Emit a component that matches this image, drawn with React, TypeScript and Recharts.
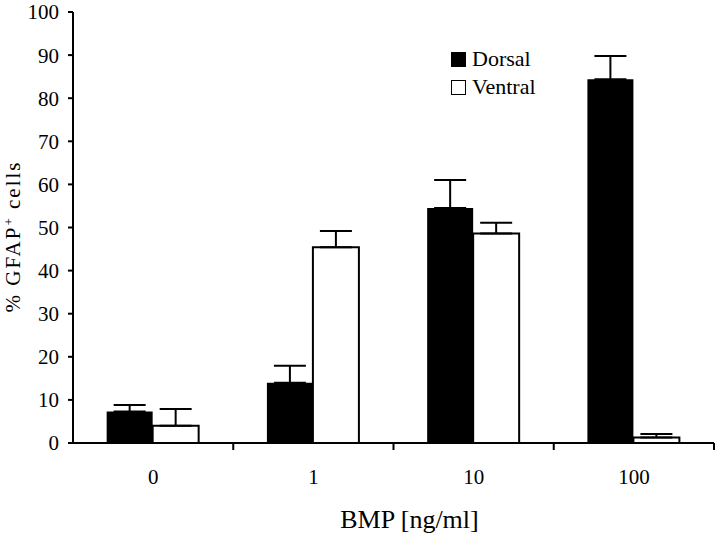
import React from 'react'
import { BarChart, Bar, XAxis, YAxis, Legend, ErrorBar } from 'recharts'

const doses = ['0', '1', '10', '100']
const dorsal = [7.3, 14.0, 54.5, 84.4]
const dorsalErr = [1.5, 3.9, 6.5, 5.4]
const ventral = [4.0, 45.4, 48.6, 1.3]
const ventralErr = [3.9, 3.8, 2.5, 0.8]
const yTicks = [0, 10, 20, 30, 40, 50, 60, 70, 80, 90, 100]

const W = 720
const H = 535
const MARGIN = { top: 12, right: 6, bottom: 2, left: 13 }
const Y_AXIS_W = 60
const HALF_BAND = (W - MARGIN.left - MARGIN.right - Y_AXIS_W) / doses.length / 2
const FONT = '"Liberation Serif", "Times New Roman", serif'

// only the upper whisker is drawn, like the original figure
const rows = doses.map((d, i) => ({
  dose: d,
  dorsal: dorsal[i],
  dorsalErr: [0, dorsalErr[i]],
  ventral: ventral[i],
  ventralErr: [0, ventralErr[i]],
}))

function DoseTick({ x, y, payload }: any) {
  return (
    <g>
      <line x1={x + HALF_BAND} x2={x + HALF_BAND} y1={y} y2={y + 7} stroke="#000" strokeWidth={2} />
      <text x={x} y={y + 41} textAnchor="middle" fontFamily={FONT} fontSize={21} fill="#000">
        {payload.value}
      </text>
    </g>
  )
}

function YTitle({ viewBox }: any) {
  const x = viewBox.x + 7
  const y = viewBox.y + viewBox.height / 2 + 9
  return (
    <text
      x={x}
      y={y}
      transform={`rotate(-90, ${x}, ${y})`}
      textAnchor="middle"
      fontFamily={FONT}
      fontSize={21}
      letterSpacing={2}
      fill="#000"
    >
      <tspan>% GFAP</tspan>
      <tspan dy={-7} fontSize={13}>+</tspan>
      <tspan dy={7}> cells</tspan>
    </text>
  )
}

function LegendBox() {
  const item = (name: string, fill: string) => (
    <div style={{ display: 'flex', alignItems: 'center', height: 28 }}>
      <span style={{ width: 13, height: 13, background: fill, border: '1.5px solid #000', marginRight: 6 }} />
      <span>{name}</span>
    </div>
  )
  return (
    <div style={{ fontFamily: FONT, fontSize: 22, color: '#000', lineHeight: 1 }}>
      {item('Dorsal', '#000')}
      {item('Ventral', '#fff')}
    </div>
  )
}

export default function App() {
  return (
    <div style={{ position: 'absolute', left: 0, top: 0, width: W, height: H, background: '#fff' }}>
      <BarChart width={W} height={H} data={rows} margin={MARGIN} barCategoryGap="21%" barGap={0}>
        <XAxis
          dataKey="dose"
          height={90}
          axisLine={{ stroke: '#000', strokeWidth: 2 }}
          tickLine={false}
          tickSize={0}
          tickMargin={0}
          tick={<DoseTick />}
          label={{
            value: 'BMP [ng/ml]',
            position: 'insideBottom',
            offset: 5,
            dx: 16,
            style: { fontFamily: FONT, fontSize: 26, fill: '#000' },
          }}
        />
        <YAxis
          width={Y_AXIS_W}
          domain={[0, 100]}
          ticks={yTicks}
          interval={0}
          axisLine={{ stroke: '#000', strokeWidth: 2 }}
          tickLine={{ stroke: '#000', strokeWidth: 2 }}
          tickSize={5}
          tickMargin={9}
          tick={{ fontFamily: FONT, fontSize: 21, fill: '#000' }}
          label={<YTitle />}
        />
        <Legend
          layout="vertical"
          align="center"
          verticalAlign="middle"
          content={<LegendBox />}
          wrapperStyle={{ position: 'absolute', top: 45, left: 451, width: 120 }}
        />
        <Bar dataKey="dorsal" name="Dorsal" fill="#000" isAnimationActive={false}>
          <ErrorBar dataKey="dorsalErr" direction="y" width={16} stroke="#000" strokeWidth={2} isAnimationActive={false} />
        </Bar>
        <Bar dataKey="ventral" name="Ventral" fill="#fff" stroke="#000" strokeWidth={2} isAnimationActive={false}>
          <ErrorBar dataKey="ventralErr" direction="y" width={16} stroke="#000" strokeWidth={2} isAnimationActive={false} />
        </Bar>
      </BarChart>
    </div>
  )
}
